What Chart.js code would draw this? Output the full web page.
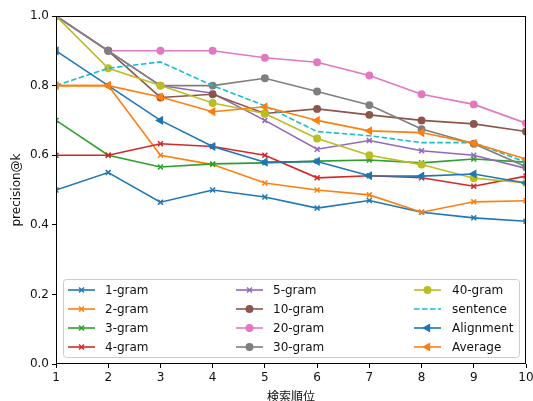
<!DOCTYPE html>
<html><head><meta charset="utf-8">
<script src="https://cdn.jsdelivr.net/npm/chart.js@4"></script>
<style>html,body{margin:0;padding:0;background:#fff}#w{width:533px;height:401px}</style>
</head><body><div id="w"><canvas id="c" width="533" height="401"></canvas></div>
<script>
const ranks = [1,2,3,4,5,6,7,8,9,10];
const yTicks = [0.0,0.2,0.4,0.6,0.8,1.0];
const seriesLabels = ['1-gram','2-gram','3-gram','4-gram','5-gram','10-gram','20-gram','30-gram','40-gram','sentence','Alignment','Average'];
const gram1  = [0.50,0.55,0.465,0.50,0.48,0.448,0.47,0.436,0.42,0.41];
const gram2  = [0.80,0.80,0.60,0.573,0.52,0.50,0.486,0.436,0.466,0.469];
const gram3  = [0.70,0.60,0.566,0.575,0.578,0.583,0.586,0.578,0.589,0.58];
const gram4  = [0.60,0.60,0.633,0.625,0.60,0.535,0.541,0.535,0.511,0.54];
const gram5  = [1.00,0.90,0.80,0.778,0.70,0.617,0.642,0.613,0.60,0.562];
const gram10 = [1.00,0.90,0.766,0.775,0.72,0.733,0.716,0.70,0.69,0.668];
const gram20 = [1.00,0.90,0.90,0.90,0.88,0.867,0.829,0.775,0.746,0.692];
const gram30 = [1.00,0.90,0.80,0.80,0.821,0.783,0.744,0.675,0.633,0.567];
const gram40 = [1.00,0.85,0.80,0.75,0.72,0.648,0.60,0.573,0.534,0.52];
const sentence = [0.80,0.85,0.868,0.80,0.742,0.668,0.656,0.636,0.636,0.58];
const alignment = [0.90,0.80,0.70,0.625,0.58,0.582,0.541,0.54,0.546,0.52];
const average = [0.80,0.80,0.767,0.725,0.739,0.70,0.67,0.665,0.634,0.589];
const seriesValues = [gram1,gram2,gram3,gram4,gram5,gram10,gram20,gram30,gram40,sentence,alignment,average];
const colors = ['#1f77b4','#ff7f0e','#2ca02c','#d62728','#9467bd','#8c564b','#e377c2','#7f7f7f','#bcbd22','#17becf','#1f77b4','#ff7f0e'];
const markers = ['x','x','x','x','x','o','o','o','o','none','<','<'];

function styleFor(m){
  if(m==='x') return {pointStyle:'crossRot',radius:3.5,rotation:0};
  if(m==='o') return {pointStyle:'circle',radius:3.2,rotation:0};
  if(m==='<') return {pointStyle:'triangle',radius:3.8,rotation:-90};
  return {pointStyle:false,radius:0,rotation:0};
}

const datasets = seriesLabels.map((lab,i)=>{
  const s = styleFor(markers[i]);
  return {
    label: lab,
    data: ranks.map((r,j)=>({x:r,y:seriesValues[i][j]})),
    borderColor: colors[i],
    backgroundColor: colors[i],
    borderWidth: 1.6,
    borderDash: markers[i]==='none' ? [5.5,2.5] : [],
    pointStyle: s.pointStyle,
    pointRadius: s.radius,
    pointRotation: s.rotation,
    pointBorderWidth: 1.5,
    pointHoverRadius: s.radius,
    tension: 0,
    order: 11 - i
  };
});

const FONT = "'DejaVu Sans','Noto Sans CJK JP',sans-serif";
const CJKFONT = "'Noto Sans CJK JP',sans-serif";

const framePlugin = {
  id:'frame',
  afterDatasetsDraw(chart){
    const a = chart.chartArea, ctx = chart.ctx;
    ctx.save();
    ctx.strokeStyle = '#000';
    ctx.lineWidth = 1;
    ctx.strokeRect(Math.round(a.left)+0.5, Math.round(a.top)+0.5, Math.round(a.right-a.left)-1, Math.round(a.bottom-a.top)-1);
    ctx.restore();
  }
};

const legendPlugin = {
  id:'gridLegend',
  afterDraw(chart){
    const ctx = chart.ctx;
    ctx.save();
    const bx=63.5, by=279.5, bw=456, bh=78, r=3;
    ctx.beginPath();
    ctx.moveTo(bx+r,by); ctx.lineTo(bx+bw-r,by); ctx.arcTo(bx+bw,by,bx+bw,by+r,r);
    ctx.lineTo(bx+bw,by+bh-r); ctx.arcTo(bx+bw,by+bh,bx+bw-r,by+bh,r);
    ctx.lineTo(bx+r,by+bh); ctx.arcTo(bx,by+bh,bx,by+bh-r,r);
    ctx.lineTo(bx,by+r); ctx.arcTo(bx,by,bx+r,by,r); ctx.closePath();
    ctx.fillStyle='rgba(255,255,255,0.8)'; ctx.fill();
    ctx.strokeStyle='#cccccc'; ctx.lineWidth=1; ctx.stroke();
    const lineX=[68,236,414], textX=[105,273,452];
    chart.data.datasets.forEach((ds,i)=>{
      const col=Math.floor(i/4), row=i%4;
      const y=290+row*19, x0=lineX[col];
      ctx.strokeStyle=ds.borderColor; ctx.fillStyle=ds.borderColor;
      ctx.lineWidth=1.6; ctx.setLineDash(ds.borderDash||[]);
      ctx.beginPath(); ctx.moveTo(x0,y); ctx.lineTo(x0+27,y); ctx.stroke();
      ctx.setLineDash([]);
      if(ds.pointStyle){
        ctx.lineWidth=1.5;
        Chart.helpers.drawPoint(ctx,{pointStyle:ds.pointStyle,radius:ds.pointRadius,rotation:ds.pointRotation,borderWidth:1.5},x0+13.5,y);
      }
      ctx.fillStyle='#111'; ctx.font="12px "+FONT; ctx.textBaseline='middle'; ctx.textAlign='left';
      ctx.fillText(ds.label,textX[col],y+0.5);
    });
    ctx.restore();
  }
};

function zeroPad(s){ s.paddingLeft=0; s.paddingRight=0; s.paddingTop=0; s.paddingBottom=0; }

new Chart(document.getElementById('c'),{
  type:'line',
  data:{datasets},
  options:{
    responsive:false,
    animation:false,
    events:[],
    layout:{padding:{top:16,right:7,left:0,bottom:0}},
    plugins:{legend:{display:false},tooltip:{enabled:false}},
    scales:{
      x:{
        type:'linear', min:1, max:10,
        afterBuildTicks(s){ s.ticks = ranks.map(v=>({value:v})); },
        afterFit(s){ s.height = 37; zeroPad(s); },
        grid:{display:true,drawOnChartArea:false,drawTicks:true,tickLength:4,color:'#000',tickColor:'#000'},
        border:{display:false},
        ticks:{color:'#111',font:{family:FONT,size:12},padding:3,maxRotation:0,callback:v=>String(v)},
        title:{display:true,text:'検索順位',color:'#111',font:{family:CJKFONT,size:12},padding:{top:0,bottom:-3}}
      },
      y:{
        type:'linear', min:0, max:1,
        afterBuildTicks(s){ s.ticks = yTicks.map(v=>({value:v})); },
        afterFit(s){ s.width = 56; zeroPad(s); },
        grid:{display:true,drawOnChartArea:false,drawTicks:true,tickLength:4,color:'#000',tickColor:'#000'},
        border:{display:false},
        ticks:{color:'#111',font:{family:FONT,size:12},padding:3,callback:v=>Number(v).toFixed(1)},
        title:{display:true,text:'precision@k',color:'#111',font:{family:FONT,size:12},padding:{top:10,bottom:0}}
      }
    }
  },
  plugins:[framePlugin,legendPlugin]
});
</script></body></html>
